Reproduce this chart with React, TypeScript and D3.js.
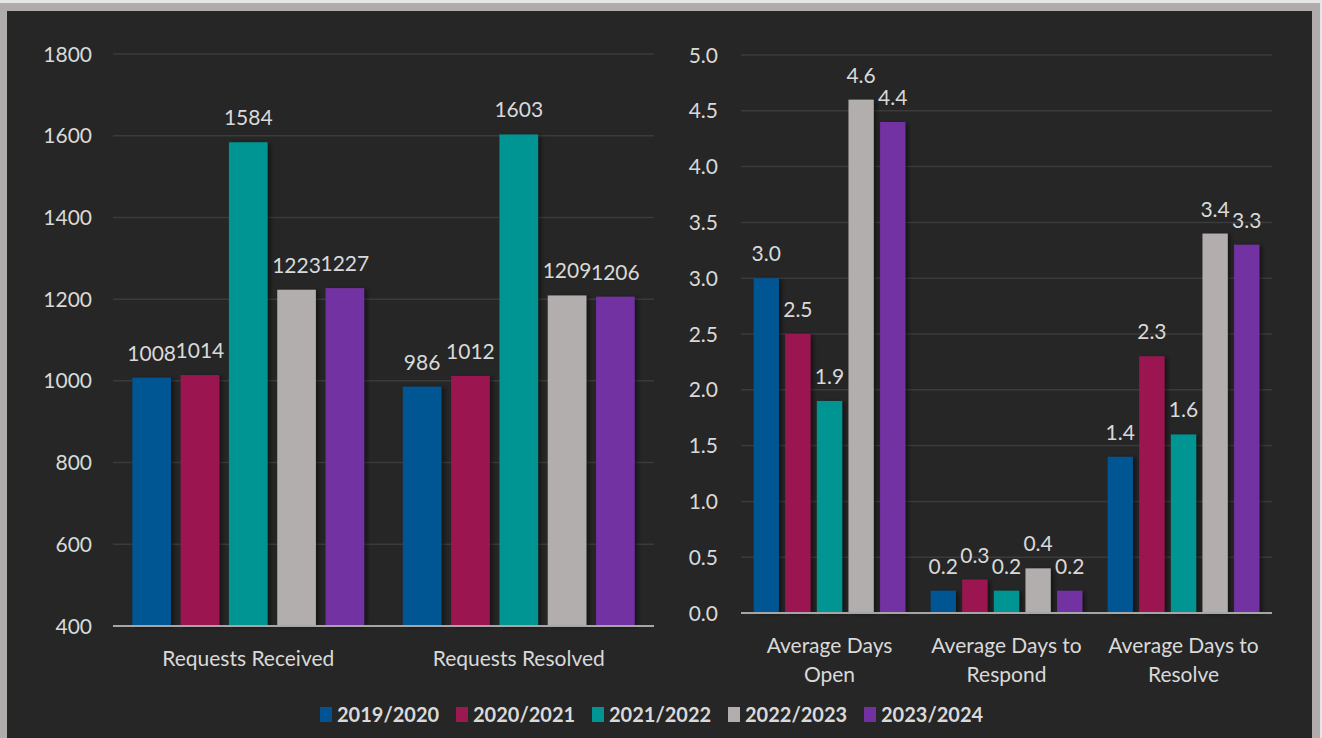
import React from 'react';
import * as d3 from 'd3';

const seriesNames = ['2019/2020', '2020/2021', '2021/2022', '2022/2023', '2023/2024'];
const seriesColors = ['#005493', '#9b1951', '#009592', '#b2aeae', '#7231a1'];

const requestCategories = ['Requests Received', 'Requests Resolved'];
const requestsReceived = [1008, 1014, 1584, 1223, 1227];
const requestsResolved = [986, 1012, 1603, 1209, 1206];
const requestTicks = [400, 600, 800, 1000, 1200, 1400, 1600, 1800];

const dayCategories = ['Average Days Open', 'Average Days to Respond', 'Average Days to Resolve'];
const dayCategoryLines = [['Average Days', 'Open'], ['Average Days to', 'Respond'], ['Average Days to', 'Resolve']];
const daysOpen = [3.0, 2.5, 1.9, 4.6, 4.4];
const daysRespond = [0.2, 0.3, 0.2, 0.4, 0.2];
const daysResolve = [1.4, 2.3, 1.6, 3.4, 3.3];
const dayTicks = [0, 0.5, 1, 1.5, 2, 2.5, 3, 3.5, 4, 4.5, 5];

const W = 1322;
const H = 738;
const FONT = 'Lato, "Open Sans", sans-serif';
const TEXT = '#d9d9d9';

type PanelProps = {
  categories: string[];
  labelLines: string[][];
  values: number[][]; // [category][series]
  ticks: number[];
  domain: [number, number];
  x: [number, number];
  y: [number, number];
  tickX: number;
  fmtTick: (v: number) => string;
  fmtVal: (v: number) => string;
};

const Panel = ({ categories, labelLines, values, ticks, domain, x, y, tickX, fmtTick, fmtVal }: PanelProps) => {
  const yScale = d3.scaleLinear().domain(domain).range(y);
  const x0 = d3.scaleBand<string>().domain(categories).range(x).padding(0);
  // group takes 6/7 of the band (gap width 100%, overlap -25%)
  const groupW = (x0.bandwidth() * 6) / 7;
  const x1 = d3.scaleBand<string>().domain(seriesNames).range([0, groupW]).paddingInner(0.2).paddingOuter(0);
  const base = yScale(domain[0]);

  return (
    <g>
      {/* gridlines */}
      {ticks.slice(1).map((t) => (
        <line key={t} x1={x[0]} x2={x[1]} y1={yScale(t)} y2={yScale(t)} stroke="#3b3b3b" strokeWidth={1.5} />
      ))}
      {ticks.map((t) => (
        <text key={'t' + t} x={tickX} y={yScale(t)} dy="0.36em" textAnchor="end" fill={TEXT} fontSize={21} fontFamily={FONT}>
          {fmtTick(t)}
        </text>
      ))}
      {categories.map((c, ci) => {
        const gx = (x0(c) as number) + (x0.bandwidth() - groupW) / 2;
        return (
          <g key={c}>
            {seriesNames.map((s, si) => {
              const v = values[ci][si];
              const bx = gx + (x1(s) as number);
              const by = yScale(v);
              return (
                <g key={s}>
                  <rect x={bx} y={by} width={x1.bandwidth()} height={base - by} fill={seriesColors[si]} filter="url(#shadow)" />
                  <text x={bx + x1.bandwidth() / 2} y={by - 17} textAnchor="middle" fill={TEXT} fontSize={21} fontFamily={FONT}>
                    {fmtVal(v)}
                  </text>
                </g>
              );
            })}
            {labelLines[ci].map((line, li) => (
              <text key={li} x={(x0(c) as number) + x0.bandwidth() / 2} y={labelLines[ci].length > 1 ? 653 + li * 29 : 666}
                textAnchor="middle" fill={TEXT} fontSize={21} fontFamily={FONT}>
                {line}
              </text>
            ))}
          </g>
        );
      })}
      <line x1={x[0]} x2={x[1]} y1={base} y2={base} stroke="#a6a6a6" strokeWidth={2} />
    </g>
  );
};

const App = () => {
  const requestValues = [requestsReceived, requestsResolved];
  const dayValues = [daysOpen, daysRespond, daysResolve];
  const legendX = d3.scaleLinear().domain([0, seriesNames.length - 1]).range([320, 864]);

  return (
    <svg width={W} height={H} style={{ position: 'absolute', left: 0, top: 0, display: 'block' }}>
      <defs>
        <filter id="shadow" x="-20%" y="-5%" width="150%" height="110%">
          <feDropShadow dx="3" dy="1" stdDeviation="2" floodColor="#000" floodOpacity="0.45" />
        </filter>
      </defs>
      <rect x={0} y={0} width={W} height={H} fill="#e6e6e6" />
      <rect x={0} y={3} width={1320} height={H - 3} fill="#b0acab" />
      <rect x={7} y={11} width={1305} height={H - 11} fill="#262626" />

      <Panel
        categories={requestCategories}
        labelLines={requestCategories.map((c) => [c])}
        values={requestValues}
        ticks={requestTicks}
        domain={[400, 1800]}
        x={[113, 654]}
        y={[626, 54]}
        tickX={92}
        fmtTick={(v) => String(v)}
        fmtVal={(v) => String(v)}
      />
      <Panel
        categories={dayCategories}
        labelLines={dayCategoryLines}
        values={dayValues}
        ticks={dayTicks}
        domain={[0, 5]}
        x={[741, 1272]}
        y={[613, 55]}
        tickX={718}
        fmtTick={(v) => v.toFixed(1)}
        fmtVal={(v) => v.toFixed(1)}
      />

      {/* legend */}
      {seriesNames.map((s, i) => (
        <g key={s} transform={`translate(${legendX(i)},0)`}>
          <rect x={0} y={707} width={12} height={15} fill={seriesColors[i]} />
          <text x={17} y={722} fill={TEXT} fontSize={20} fontWeight="bold" fontFamily={FONT}>
            {s}
          </text>
        </g>
      ))}
    </svg>
  );
};

export default App;
